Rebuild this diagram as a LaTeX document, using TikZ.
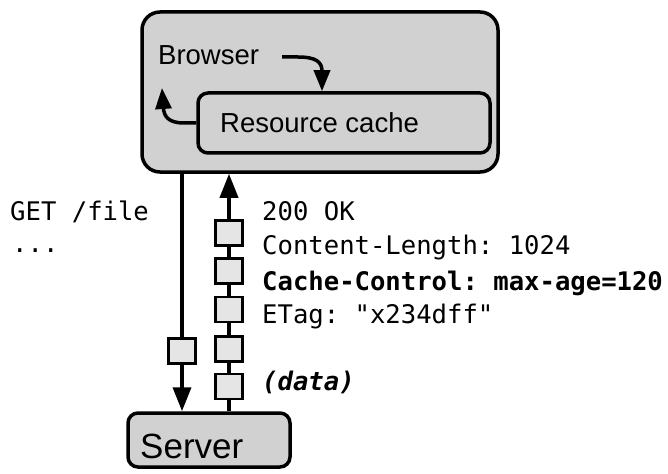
\documentclass[tikz,border=0pt]{standalone}
\usepackage{fontspec}
\setmainfont{Liberation Sans}
\setmonofont{DejaVu Sans Mono}
\usetikzlibrary{arrows.meta}

\begin{document}
\begin{tikzpicture}[x=1pt, y=-1pt,
    box/.style={draw, line width=3.5pt, rounded corners=10pt, fill=black!18},
    pkt/.style={draw, line width=2.2pt, fill=black!10, minimum width=27pt, minimum height=25pt, inner sep=0pt},
    flow/.style={line width=3.5pt, -{Triangle[length=24pt, width=18pt]}},
    curvy/.style={line width=3.5pt, -{Triangle[length=21pt, width=16pt]}},
    sans/.style={font=\fontsize{27.5}{32}\selectfont, inner sep=0pt, anchor=base west},
    mono/.style={font=\ttfamily\fontsize{25.6}{30}\selectfont, inner sep=0pt, anchor=base west}
  ]
  \useasboundingbox (0,0) rectangle (668,473);
  \node[box, rounded corners=18pt, minimum width=356pt, minimum height=160pt] (browser) at (320,92) {};
  \node[box, minimum width=292pt, minimum height=60pt] (cache) at (344,123) {};
  \node[sans] (browserlabel) at (158,65) {Browser};
  \node[sans] (cachelabel) at (220,133) {Resource cache};
  \node[box, minimum width=162pt, minimum height=54pt] (server) at (209,440) {};
  \node[sans, font=\fontsize{35}{40}\selectfont] (serverlabel) at (140,458) {Server};

  \coordinate (b1) at (282,57);
  \coordinate (t1) at (322,0);
  \coordinate (t2) at (162,88);
  \draw[curvy] (b1) -- (298,57) .. controls (316,57) and (322,62) .. (cache.north -| t1);
  \draw[curvy] (cache.west) -- (184,123) .. controls (168,123) and (164,116) .. (t2);

  \coordinate (downx) at (182,0);
  \coordinate (upx) at (229,0);
  \draw[flow] (browser.south -| downx) -- (server.north -| downx);
  \draw[flow] (server.north -| upx) -- (browser.south -| upx);
  \foreach \y [count=\i] in {233,271,309.5,349,386.5}
    \node[pkt] (up\i) at (229,\y) {};
  \node[pkt] (down1) at (182,351) {};

  \node[mono] (get) at (10,220) {GET /file};
  \node[mono] (dots) at (12,252) {...};
  \node[mono] (status) at (262,220) {200 OK};
  \node[mono] (length) at (262,254) {Content-Length: 1024};
  \node[mono] (cachectl) at (262,290) {\bfseries Cache-Control: max-age=120};
  \node[mono] (etag) at (262,323) {ETag: "x234dff"};
  \node[mono] (data) at (262,390) {\bfseries\itshape (data)};
\end{tikzpicture}
\end{document}
